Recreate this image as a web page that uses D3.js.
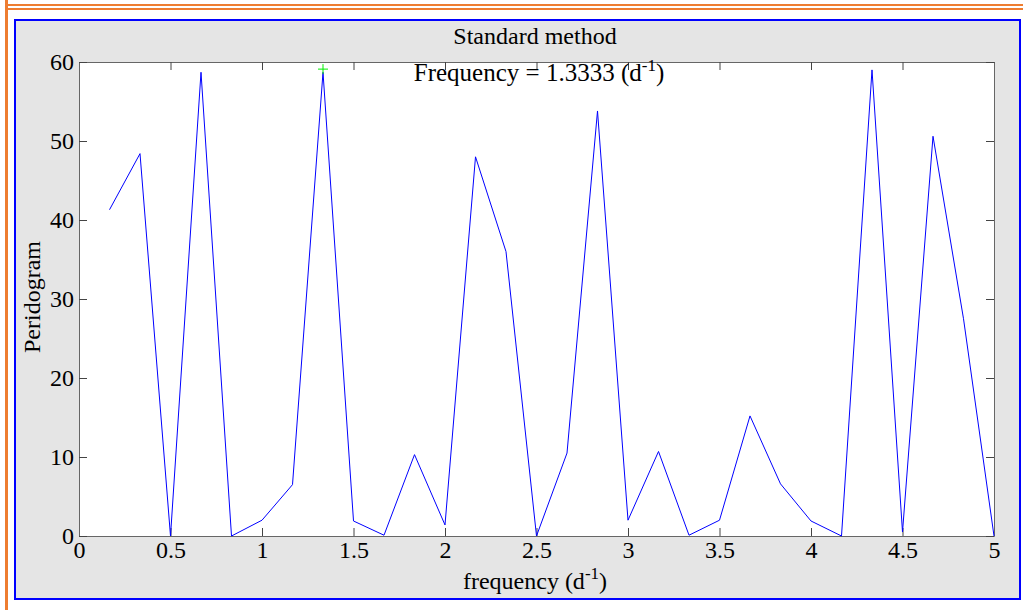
<!DOCTYPE html>
<html><head><meta charset="utf-8">
<script src="https://cdn.jsdelivr.net/npm/d3@7"></script>
<style>body{margin:0;background:#fff}svg{display:block}text{font-family:"Liberation Serif","Times New Roman",serif;fill:#000}</style>
</head><body><svg id="c" width="1023" height="610"></svg>
<script>
const freqs = [1/6,2/6,3/6,4/6,5/6,1,7/6,8/6,9/6,10/6,11/6,2,13/6,14/6,15/6,16/6,17/6,3,19/6,20/6,21/6,22/6,23/6,4,25/6,26/6,27/6,28/6,29/6,5];
const peri  = [41.3,48.4,0,58.7,0,2.0,6.5,58.7,1.9,0.1,10.3,1.4,48.0,36.0,0,10.5,53.8,2.0,10.7,0.1,2.0,15.2,6.6,1.9,0,59.0,0.5,50.6,27.5,0];
const xTicks = [0,0.5,1,1.5,2,2.5,3,3.5,4,4.5,5];
const yTicks = [0,10,20,30,40,50,60];
const peakFreq = 4/3, peakVal = 59.1;

const svg = d3.select("#c");
// outer frame
svg.append("rect").attr("x",5).attr("y",0).attr("width",3).attr("height",610).attr("fill","#ee7d31");
svg.append("rect").attr("x",5).attr("y",4).attr("width",1018).attr("height",2).attr("fill","#ee7d31");
svg.append("rect").attr("x",5).attr("y",8).attr("width",1018).attr("height",2).attr("fill","#ee7d31");
svg.append("rect").attr("x",15).attr("y",20).attr("width",1005).attr("height",579)
  .attr("fill","#e5e5e5").attr("stroke","#0000ff").attr("stroke-width",2);

const L=79,T=62,R=994,B=536;
const x = d3.scaleLinear().domain([0,5]).range([L,R]);
const y = d3.scaleLinear().domain([0,60]).range([B,T]);
svg.append("rect").attr("x",L).attr("y",T).attr("width",R-L).attr("height",B-T).attr("fill","#fff");

const fmt = d=>String(d);
const tl=8;
svg.append("g").attr("transform",`translate(0,${B})`)
  .call(d3.axisBottom(x).tickValues(xTicks).tickFormat(fmt).tickSizeInner(-tl).tickSizeOuter(0).tickPadding(5))
  .call(g=>{g.select(".domain").attr("stroke","#666");g.selectAll("line").attr("stroke","#444");g.selectAll("text").attr("font-size",24).attr("font-family","Liberation Serif");});
svg.append("g").attr("transform",`translate(0,${T})`)
  .call(d3.axisTop(x).tickValues(xTicks).tickFormat("").tickSizeInner(-tl).tickSizeOuter(0))
  .call(g=>{g.select(".domain").attr("stroke","#666");g.selectAll("line").attr("stroke","#444");});
svg.append("g").attr("transform",`translate(${L},0)`)
  .call(d3.axisLeft(y).tickValues(yTicks).tickFormat(fmt).tickSizeInner(-tl).tickSizeOuter(0).tickPadding(5))
  .call(g=>{g.select(".domain").attr("stroke","#666");g.selectAll("line").attr("stroke","#444");g.selectAll("text").attr("font-size",24).attr("font-family","Liberation Serif");});
svg.append("g").attr("transform",`translate(${R},0)`)
  .call(d3.axisRight(y).tickValues(yTicks).tickFormat("").tickSizeInner(-tl).tickSizeOuter(0))
  .call(g=>{g.select(".domain").attr("stroke","#666");g.selectAll("line").attr("stroke","#444");});

const line = d3.line().x((d,i)=>x(freqs[i])).y(d=>y(d));
svg.append("path").datum(peri).attr("d",line).attr("fill","none").attr("stroke","#0000ff").attr("stroke-width",1);

// peak marker
const px=x(peakFreq), py=y(peakVal);
svg.append("path").attr("d",`M${px-5},${py}H${px+5}M${px},${py-5}V${py+5}`).attr("stroke","#00ee00").attr("stroke-width",1);

// texts
svg.append("text").attr("x",535).attr("y",44).attr("text-anchor","middle").attr("font-size",24).text("Standard method");
const ann = svg.append("text").attr("x",539).attr("y",81).attr("text-anchor","middle").attr("font-size",25);
ann.append("tspan").text("Frequency = 1.3333 (d");
ann.append("tspan").attr("dy",-10).attr("font-size",17).text("-1");
ann.append("tspan").attr("dy",10).text(")");
const xl = svg.append("text").attr("x",535).attr("y",589).attr("text-anchor","middle").attr("font-size",24);
xl.append("tspan").text("frequency (d");
xl.append("tspan").attr("dy",-10).attr("font-size",17).text("-1");
xl.append("tspan").attr("dy",10).text(")");
svg.append("text").attr("transform","translate(40,297) rotate(-90)").attr("text-anchor","middle").attr("font-size",24).text("Peridogram");
</script></body></html>
